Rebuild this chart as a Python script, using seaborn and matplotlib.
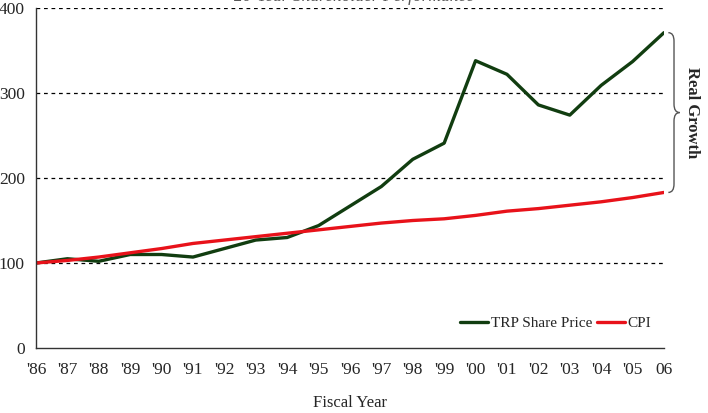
import numpy as np
import pandas as pd
import matplotlib.pyplot as plt
import seaborn as sns
from matplotlib.path import Path
from matplotlib.patches import PathPatch
import matplotlib.transforms as mtransforms

years = ["'86", "'87", "'88", "'89", "'90", "'91", "'92", "'93", "'94", "'95", "'96",
         "'97", "'98", "'99", "'00", "'01", "'02", "'03", "'04", "'05", "06"]
trp_price = [100, 105, 102, 110, 110, 107, 117, 127, 130, 144, 167,
             190, 222, 241, 338, 322, 286, 274, 309, 337, 371]
cpi = [100, 103, 107, 112, 117, 123, 127, 131, 135, 139, 143,
       147, 150, 152, 156, 161, 164, 168, 172, 177, 183]

sns.set_style('white')
plt.rcParams['font.family'] = ['Liberation Serif', 'DejaVu Serif']

df = pd.DataFrame({
    'idx': list(range(len(years))) * 2,
    'value': trp_price + cpi,
    'series': ['TRP Share Price'] * len(years) + ['CPI'] * len(years),
})

fig = plt.figure(figsize=(7.08, 4.13), dpi=100)
ax = fig.add_axes([0.0508, 0.1574, 0.887, 0.8232])

sns.lineplot(data=df, x='idx', y='value', hue='series', ax=ax,
             palette={'TRP Share Price': '#113d10', 'CPI': '#e8121a'},
             linewidth=2.4, legend=True)

ax.set_xlim(0, len(years) - 1)
ax.set_ylim(0, 400)
ax.set_yticks([0, 100, 200, 300, 400])
ax.set_xticks(range(len(years)))
ax.set_xticklabels(years)
for y in [100, 200, 300, 400]:
    ax.axhline(y, color='black', linestyle=(0, (3, 3)), linewidth=0.9, zorder=0)

for side in ['top', 'right']:
    ax.spines[side].set_visible(False)
for side in ['left', 'bottom']:
    ax.spines[side].set_color('#333333')
    ax.spines[side].set_linewidth(1.0)
ax.tick_params(axis='both', direction='out', length=5, width=1, color='#333333',
               labelsize=12.5)
ax.tick_params(axis='x', pad=5)
ax.tick_params(axis='y', pad=3)
ax.set_xlabel('Fiscal Year', fontsize=12, labelpad=12)
ax.set_ylabel('')

leg = ax.legend(loc='lower right', bbox_to_anchor=(1.001, 0.012), frameon=False, ncol=2,
                fontsize=11, handlelength=1.85, handletextpad=0.15, columnspacing=0.3)

# brace showing real growth between final values
trans = mtransforms.blended_transform_factory(ax.transAxes, ax.transData)
top, bot = trp_price[-1], cpi[-1]
mid = (top + bot) / 2
x0, x1, x2 = 1.007, 1.016, 1.025
codes = [Path.MOVETO, Path.CURVE3, Path.CURVE3, Path.LINETO,
         Path.CURVE3, Path.CURVE3, Path.CURVE3, Path.CURVE3,
         Path.LINETO, Path.CURVE3, Path.CURVE3]
verts = [(x0, top), (x1, top), (x1, top - 10), (x1, mid + 10),
         (x1, mid), (x2, mid), (x1, mid), (x1, mid - 10),
         (x1, bot + 10), (x1, bot), (x0, bot)]
brace = PathPatch(Path(verts, codes), transform=trans, fill=False,
                  edgecolor='#555555', linewidth=1.0, clip_on=False)
ax.add_patch(brace)
ax.text(1.045, mid, 'Real Growth', transform=trans, rotation=-90,
        ha='center', va='center', fontsize=12, fontweight='bold')

fig.text(0.5, 1.0 - 1 / 413, '20-Year Shareholder Performance', ha='center',
         va='baseline', fontsize=12.5, style='italic', color='#555555')

fig.savefig('out.png', dpi=100)
